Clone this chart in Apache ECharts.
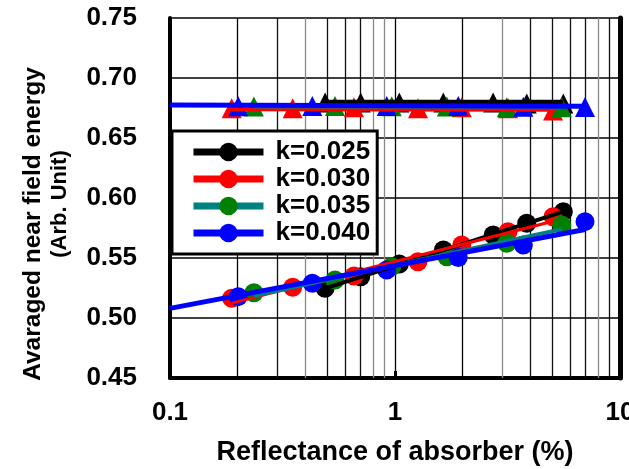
<!DOCTYPE html>
<html>
<head>
<meta charset="utf-8">
<script src="https://cdn.jsdelivr.net/npm/echarts@6/dist/echarts.min.js"></script>
<style>
  html, body { margin: 0; padding: 0; background: #fff; overflow: hidden; }
  #chart { width: 629px; height: 469px; }
</style>
</head>
<body>
<div id="chart"></div>
<script>
// Reflectance of absorber (%) for each extinction coefficient k
const reflK025 = [0.489, 0.704, 1.045, 1.64, 2.73, 3.85, 5.6];
const reflK030 = [0.188, 0.351, 0.657, 1.265, 1.98, 3.18, 5.04];
const reflK035 = [0.236, 0.541, 0.967, 1.70, 3.14, 5.51];
const reflK040 = [0.201, 0.429, 0.919, 1.91, 3.72, 6.99];

// Lower branch (circles)
const lowK025 = [0.5247, 0.5344, 0.5450, 0.5567, 0.5692, 0.5789, 0.5886];
const lowK030 = [0.5164, 0.5256, 0.5350, 0.5469, 0.5608, 0.5719, 0.5844];
const lowK035 = [0.5211, 0.5317, 0.5428, 0.5511, 0.5623, 0.5775];
const lowK040 = [0.5178, 0.5289, 0.5400, 0.5504, 0.5608, 0.5803];

// Upper branch (triangles)
const upK025 = [0.6796, 0.6796, 0.6796, 0.6796, 0.6796, 0.6788, 0.6788];
const upK030 = [0.6747, 0.6747, 0.6756, 0.6747, 0.6756, 0.6747, 0.6730];
const upK035 = [0.6762, 0.6767, 0.6764, 0.6762, 0.6756, 0.6756];
const upK040 = [0.6764, 0.6767, 0.6767, 0.6767, 0.6761, 0.6758];

// Trend lines: [x start, x end] and [y start, y end]
const fitLowX = { k025: [0.489, 5.6], k030: [0.188, 5.04], k035: [0.236, 5.51], k040: [0.1, 6.99] };
const fitLowY = { k025: [0.5247, 0.5886], k030: [0.5124, 0.5806], k035: [0.5185, 0.5741], k040: [0.508, 0.5737] };
const fitUpX = { k025: [0.489, 5.6], k030: [0.188, 5.04], k035: [0.236, 5.51], k040: [0.1, 6.99] };
const fitUpY = { k025: [0.6797, 0.6797], k030: [0.6740, 0.6735], k035: [0.6762, 0.6760], k040: [0.6776, 0.6764] };

const seriesNames = ['k=0.025', 'k=0.030', 'k=0.035', 'k=0.040'];
const yTicks = [0.45, 0.50, 0.55, 0.60, 0.65, 0.70, 0.75];
const logGridValues = [0.2, 0.3, 0.4, 0.5, 0.6, 0.7, 0.8, 0.9, 1, 2, 3, 4, 5, 6, 7, 8, 9];
const logGridColors = ['#000', '#111', '#888', '#111', '#111', '#111', '#888', '#888', '#000',
                       '#000', '#888', '#111', '#111', '#111', '#111', '#888', '#111'];

const keys = ['k025', 'k030', 'k035', 'k040'];
const reflByKey = { k025: reflK025, k030: reflK030, k035: reflK035, k040: reflK040 };
const lowByKey = { k025: lowK025, k030: lowK030, k035: lowK035, k040: lowK040 };
const upByKey = { k025: upK025, k030: upK030, k035: upK035, k040: upK040 };
const markColor = { k025: '#000000', k030: '#ff0000', k035: '#008000', k040: '#0000ff' };
const lineColor = { k025: '#000000', k030: '#ff0000', k035: '#008080', k040: '#0000ff' };
const lowLineWidth = { k025: 4, k030: 3, k035: 4, k040: 5 };
const upLineWidth = { k025: 5, k030: 4, k035: 4, k040: 5 };

const pairs = (xs, ys) => xs.map((x, i) => [x, ys[i]]);
const FONT = 'Liberation Sans, Arial, sans-serif';

const series = [];

// minor log grid lines
series.push({
  type: 'scatter',
  data: [],
  silent: true,
  z: 1,
  markLine: {
    silent: true,
    symbol: 'none',
    label: { show: false },
    animation: false,
    z: 1,
    data: logGridValues.map((v, i) => ({
      xAxis: v,
      lineStyle: { color: logGridColors[i], width: 1.3, type: 'solid' }
    }))
  }
});

// triangles
keys.forEach((k, i) => {
  series.push({
    type: 'scatter',
    symbol: 'triangle',
    symbolSize: 20,
    itemStyle: { color: markColor[k], opacity: 1 },
    data: pairs(reflByKey[k], upByKey[k]),
    z: 3 + i
  });
});
// circles
keys.forEach((k, i) => {
  series.push({
    type: 'scatter',
    symbol: 'circle',
    symbolSize: 19,
    itemStyle: { color: markColor[k], opacity: 1 },
    data: pairs(reflByKey[k], lowByKey[k]),
    z: 3 + i
  });
});
// upper trend lines
keys.forEach((k, i) => {
  series.push({
    type: 'line',
    showSymbol: false,
    symbol: 'none',
    lineStyle: { color: lineColor[k], width: upLineWidth[k] },
    data: pairs(fitUpX[k], fitUpY[k]),
    z: 10 + i
  });
});
// lower trend lines (named, shown in legend)
keys.forEach((k, i) => {
  series.push({
    name: seriesNames[i],
    type: 'line',
    showSymbol: false,
    symbol: 'circle',
    itemStyle: { color: markColor[k] },
    lineStyle: { color: lineColor[k], width: lowLineWidth[k] },
    data: pairs(fitLowX[k], fitLowY[k]),
    z: 10 + i
  });
});

const chart = echarts.init(document.getElementById('chart'), null, { renderer: 'canvas', width: 629, height: 469 });
chart.setOption({
  animation: false,
  backgroundColor: '#fff',
  grid: { left: 170, right: 9, top: 18, bottom: 91, containLabel: false, outerBoundsMode: 'none' },
  xAxis: {
    type: 'log',
    logBase: 10,
    min: 0.1,
    max: 10,
    name: 'Reflectance of absorber (%)',
    nameLocation: 'middle',
    nameGap: 61,
    nameTextStyle: { fontFamily: FONT, fontSize: 27, fontWeight: 'bold', color: '#000' },
    axisLine: { show: true, onZero: false, lineStyle: { color: '#000', width: 4 } },
    axisTick: { show: true, inside: true, length: 7, lineStyle: { color: '#000', width: 3 } },
    axisLabel: {
      fontFamily: FONT, fontSize: 26, fontWeight: 'bold', color: '#000', margin: 22,
      formatter: v => String(v)
    },
    splitLine: { show: false },
    minorTick: { show: false },
    minorSplitLine: { show: false }
  },
  yAxis: [{
    type: 'value',
    min: yTicks[0],
    max: yTicks[yTicks.length - 1],
    interval: 0.05,
    axisLine: { show: true, lineStyle: { color: '#000', width: 4 } },
    axisTick: { show: false },
    axisLabel: {
      fontFamily: FONT, fontSize: 26, fontWeight: 'bold', color: '#000', margin: 33,
      formatter: v => v.toFixed(2)
    },
    splitLine: { show: true, lineStyle: { color: '#000', width: 1.5 } }
  }, {
    type: 'value',
    position: 'right',
    min: yTicks[0],
    max: yTicks[yTicks.length - 1],
    interval: 0.05,
    axisLine: { show: true, lineStyle: { color: '#000', width: 5 } },
    axisTick: { show: false },
    axisLabel: { show: false },
    splitLine: { show: false }
  }],
  legend: {
    data: seriesNames,
    orient: 'vertical',
    left: 172,
    top: 131,
    padding: [8, 7, 8, 18],
    itemWidth: 70,
    itemHeight: 23,
    itemGap: 1,
    backgroundColor: '#fff',
    borderColor: '#000',
    borderWidth: 3,
    lineStyle: { width: 7 },
    textStyle: { fontFamily: FONT, fontSize: 26, fontWeight: 'bold', color: '#000', padding: [0, 0, 0, 7] },
    selectedMode: false,
    z: 20
  },
  graphic: [
    {
      type: 'text', x: 33, y: 224, rotation: Math.PI / 2,
      style: { text: 'Avaraged near field energy', fill: '#000', font: 'bold 24.5px ' + FONT, textAlign: 'center', textVerticalAlign: 'middle' }
    },
    {
      type: 'text', x: 60, y: 204, rotation: Math.PI / 2,
      style: { text: '(Arb. Unit)', fill: '#000', font: 'bold 22px ' + FONT, textAlign: 'center', textVerticalAlign: 'middle' }
    }
  ],
  series: series
});
</script>
</body>
</html>
